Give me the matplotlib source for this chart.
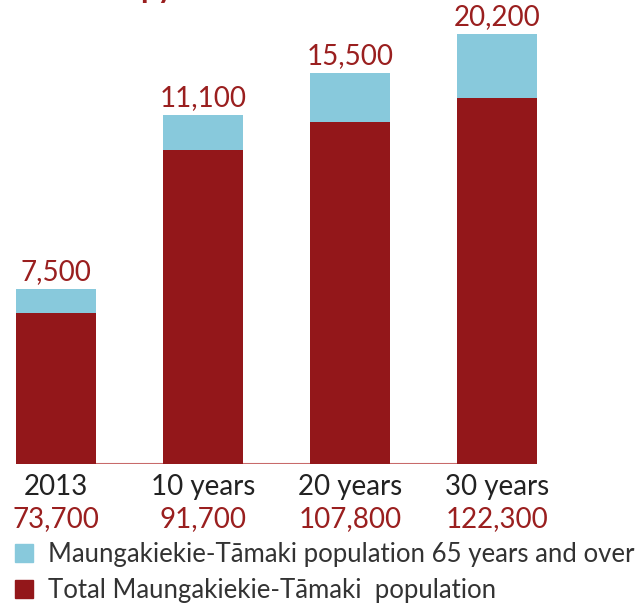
import matplotlib.pyplot as plt
from matplotlib.patches import Patch

# categories and the numbers printed on the chart
periods = ['2013', '10 years', '20 years', '30 years']
total_pop = [73700, 91700, 107800, 122300]
older_pop = [7500, 11100, 15500, 20200]

# the source graphic does not draw the total bars to scale, so these are the
# heights the red segments are drawn at (same units as the 65+ segment)
total_drawn = [47700, 99200, 108100, 115700]

RED = '#93171a'
BLUE = '#88c9dc'
TXT_RED = '#9a1f1f'
GREY = '#222222'

plt.rcParams['font.family'] = ['Lato', 'DejaVu Sans']

fig = plt.figure(figsize=(6.35, 6.1), dpi=100)
ax = fig.add_axes([0, 146 / 610, 1, 464 / 610])

x = list(range(len(periods)))
w = 0.54
ax.bar(x, total_drawn, width=w, color=RED, zorder=2)
ax.bar(x, older_pop, width=w, bottom=total_drawn, color=BLUE, zorder=2)
ax.hlines(0, x[0] - w / 2, x[-1] + w / 2, color='#c86a6a', lw=1.5, zorder=1)

for xi, base, top in zip(x, total_drawn, older_pop):
    ax.annotate(f'{top:,}', (xi, base + top), xytext=(0, 3), textcoords='offset points',
                ha='center', va='bottom', fontsize=20, color=TXT_RED)

for xi, name, tot in zip(x, periods, total_pop):
    ax.annotate(name, (xi, 0), xytext=(0, -7), textcoords='offset points',
                ha='center', va='top', fontsize=20, color=GREY)
    ax.annotate(f'{tot:,}', (xi, 0), xytext=(0, -30), textcoords='offset points',
                ha='center', va='top', fontsize=20, color=TXT_RED)

ax.set_xlim(-0.381, 3.939)
ax.set_ylim(0, 146600)
ax.axis('off')

# bit of the title cut off at the top edge
fig.text(140 / 635, 1.0 + 2 / 610, 'py', fontsize=22, fontweight='bold', color=TXT_RED,
         va='baseline', ha='left')

handles = [Patch(color=BLUE), Patch(color=RED)]
labels = ['Maungakiekie-Tāmaki population 65 years and over',
          'Total Maungakiekie-Tāmaki  population']
fig.legend(handles, labels, loc='lower left', bbox_to_anchor=(0.0, -0.014),
           frameon=False, fontsize=18.5, handlelength=0.7, handleheight=0.7,
           handletextpad=0.55, labelspacing=0.45, labelcolor='#333333',
           borderaxespad=0.2)

fig.savefig('out.png', dpi=100)
